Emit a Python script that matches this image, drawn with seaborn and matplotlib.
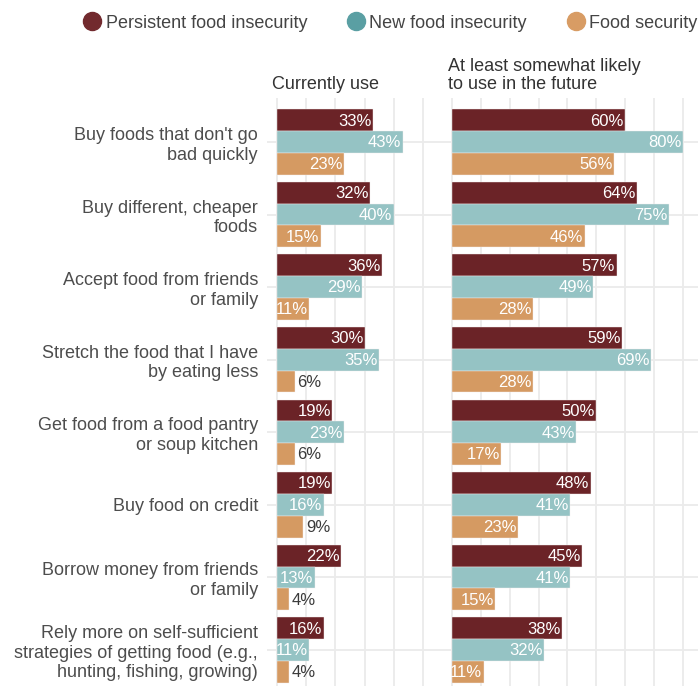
import matplotlib
matplotlib.use("Agg")
import matplotlib.pyplot as plt
import pandas as pd
import seaborn as sns
from matplotlib.lines import Line2D

categories = [
    "Buy foods that don't go\nbad quickly",
    "Buy different, cheaper\nfoods",
    "Accept food from friends\nor family",
    "Stretch the food that I have\nby eating less",
    "Get food from a food pantry\nor soup kitchen",
    "Buy food on credit",
    "Borrow money from friends\nor family",
    "Rely more on self-sufficient\nstrategies of getting food (e.g.,\nhunting, fishing, growing)",
]
groups = ["Persistent food insecurity", "New food insecurity", "Food security"]

current_persistent = [33, 32, 36, 30, 19, 19, 22, 16]
current_new = [43, 40, 29, 35, 23, 16, 13, 11]
current_secure = [23, 15, 11, 6, 6, 9, 4, 4]

future_persistent = [60, 64, 57, 59, 50, 48, 45, 38]
future_new = [80, 75, 49, 69, 43, 41, 41, 32]
future_secure = [56, 46, 28, 28, 17, 23, 15, 11]

panel_titles = ["Currently use", "At least somewhat likely\nto use in the future"]

bar_colors = ["#6b2327", "#95c3c4", "#d59a62"]
legend_colors = ["#722a2e", "#5a9fa3", "#d89c64"]

sns.set_theme(style="white")
plt.rcParams["font.family"] = ["Liberation Sans", "DejaVu Sans"]


def to_long(p, n, s):
    rows = []
    for c, a, b, d in zip(categories, p, n, s):
        rows += [(c, groups[0], a), (c, groups[1], b), (c, groups[2], d)]
    return pd.DataFrame(rows, columns=["strategy", "group", "pct"])


W, H = 698, 686
fig = plt.figure(figsize=(W / 100, H / 100), dpi=100)
ax_h = 588 / H
ax1 = fig.add_axes([267 / W, 0, 175 / W, ax_h])
ax2 = fig.add_axes([442 / W, 0, 256 / W, ax_h])

panels = [
    (ax1, to_long(current_persistent, current_new, current_secure), (-3.42, 56.5), 60),
    (ax2, to_long(future_persistent, future_new, future_secure), (-3.46, 85.2), 90),
]

grid_c = "#ebebeb"
for ax, df, xl, gmax in panels:
    sns.barplot(data=df, y="strategy", x="pct", hue="group", hue_order=groups,
                order=categories, palette=bar_colors, saturation=1, width=0.9,
                gap=0, orient="h", ax=ax, legend=False, errorbar=None,
                edgecolor="#f4eeee", linewidth=0.3)
    ax.set_axisbelow(True)
    ax.set_xlim(*xl)
    ax.set_ylim(7.496, -0.606)
    ax.set_xticks(list(range(0, gmax, 10)))
    ax.grid(axis="both", color=grid_c, linewidth=1.3)
    ax.tick_params(axis="x", labelbottom=False, length=0)
    ax.tick_params(axis="y", length=0)
    ax.set_xlabel("")
    ax.set_ylabel("")
    for sp in ax.spines.values():
        sp.set_visible(False)
    for bar in ax.patches:
        w = bar.get_width()
        yc = bar.get_y() + bar.get_height() / 2
        if w >= 10:
            ax.annotate(f"{w:.0f}%", (w, yc), xytext=(-1.0, -0.6),
                        textcoords="offset points", ha="right", va="center",
                        color="white", fontsize=12)
        else:
            ax.annotate(f"{w:.0f}%", (w, yc), xytext=(1.8, -0.6),
                        textcoords="offset points", ha="left", va="center",
                        color="#3a3a3a", fontsize=12)

ax1.tick_params(axis="y", labelsize=13, labelcolor="#4d4d4d", pad=6.5)
ax2.tick_params(axis="y", labelleft=False)

fig.text(272 / W, 1 - 93 / H, panel_titles[0], ha="left", va="bottom",
         fontsize=13, color="#333333")
fig.text(448 / W, 1 - 93 / H, panel_titles[1], ha="left", va="bottom",
         fontsize=13, color="#333333", linespacing=1.1)

handles = [Line2D([], [], marker="o", ls="", markersize=13, color=c) for c in legend_colors]
fig.legend(handles=handles, labels=groups, loc="center left",
           bbox_to_anchor=(83 / W, 1 - 23 / H), ncol=3, frameon=False,
           fontsize=13, handlelength=1.0, handletextpad=0.25, columnspacing=2.2,
           borderpad=0, borderaxespad=0, labelcolor="#444444")

fig.savefig("out.png", dpi=100)
